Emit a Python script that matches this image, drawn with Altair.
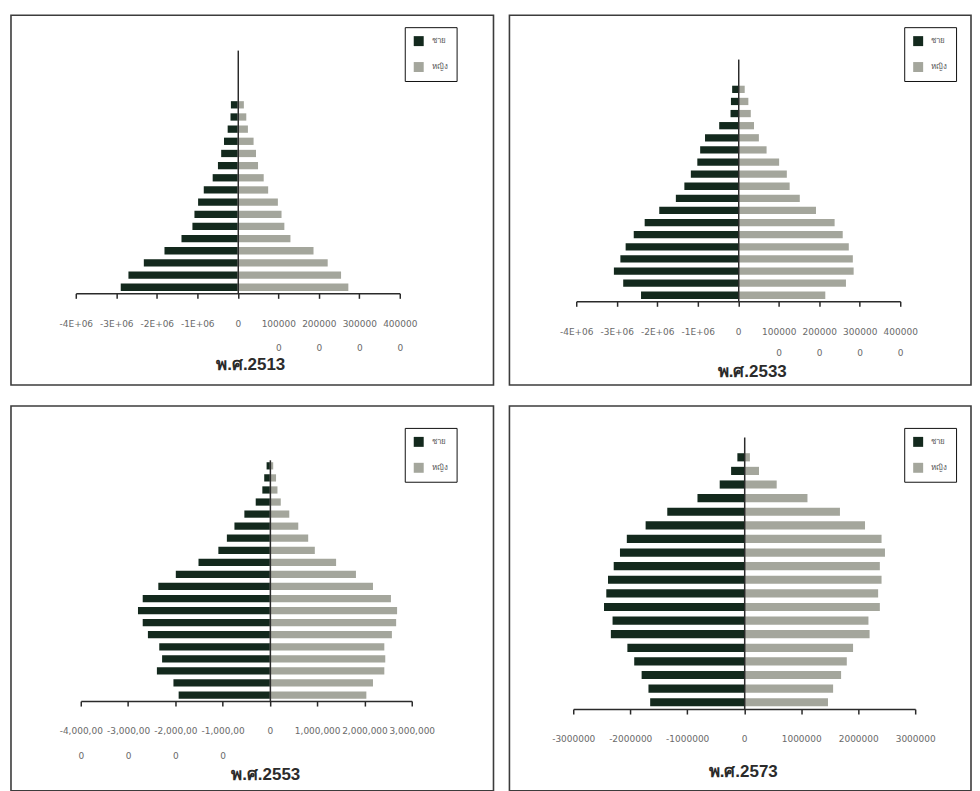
import altair as alt
import pandas as pd

AGE_GROUPS = ["0-4", "5-9", "10-14", "15-19", "20-24", "25-29", "30-34", "35-39",
              "40-44", "45-49", "50-54", "55-59", "60-64", "65-69", "70-74", "75-79",
              "80-84", "85-89", "90-94", "95-99"]
SEXES = ["ชาย", "หญิง"]
SEX_COLORS = ["#13291d", "#a4a69c"]

YEARS = ["พ.ศ.2513", "พ.ศ.2533", "พ.ศ.2553", "พ.ศ.2573"]

# population by 5-year age group, youngest first
MALE_2513 = [2890000, 2700000, 2320000, 1810000, 1390000, 1120000, 1070000, 980000,
             840000, 620000, 490000, 410000, 340000, 250000, 180000, 170000, 0, 0, 0, 0]
FEMALE_2513 = [2730000, 2550000, 2220000, 1870000, 1300000, 1150000, 1080000, 990000,
               750000, 640000, 500000, 450000, 390000, 250000, 210000, 150000, 0, 0, 0, 0]

MALE_2533 = [2400000, 2840000, 3070000, 2910000, 2780000, 2580000, 2310000, 1950000,
             1540000, 1330000, 1170000, 1010000, 940000, 820000, 470000, 190000, 180000,
             150000, 0, 0]
FEMALE_2533 = [2150000, 2660000, 2850000, 2830000, 2730000, 2580000, 2380000, 1920000,
               1520000, 1270000, 1200000, 1010000, 700000, 510000, 390000, 310000, 250000,
               160000, 0, 0]

MALE_2553 = [1930000, 2040000, 2390000, 2280000, 2340000, 2580000, 2690000, 2790000,
             2690000, 2360000, 1990000, 1510000, 1090000, 910000, 750000, 540000, 300000,
             160000, 120000, 70000]
FEMALE_2553 = [2040000, 2180000, 2420000, 2440000, 2420000, 2580000, 2670000, 2690000,
               2560000, 2180000, 1820000, 1400000, 950000, 810000, 600000, 410000, 230000,
               160000, 130000, 70000]

MALE_2573 = [1650000, 1680000, 1800000, 1930000, 2050000, 2340000, 2310000, 2460000,
             2420000, 2390000, 2290000, 2180000, 2060000, 1730000, 1350000, 820000, 430000,
             230000, 120000, 0]
FEMALE_2573 = [1470000, 1560000, 1700000, 1800000, 1910000, 2200000, 2180000, 2380000,
               2350000, 2410000, 2380000, 2470000, 2410000, 2120000, 1680000, 1110000, 570000,
               260000, 100000, 0]

TICKS_2513 = [-4000000, -3000000, -2000000, -1000000, 0, 1000000, 2000000, 3000000, 4000000]
TICK_LABELS_2513 = [["-4E+06"], ["-3E+06"], ["-2E+06"], ["-1E+06"], ["0"],
                    ["100000", "0"], ["200000", "0"], ["300000", "0"], ["400000", "0"]]
TICKS_2533 = TICKS_2513
TICK_LABELS_2533 = TICK_LABELS_2513
TICKS_2553 = [-4000000, -3000000, -2000000, -1000000, 0, 1000000, 2000000, 3000000]
TICK_LABELS_2553 = [["-4,000,00", "0"], ["-3,000,00", "0"], ["-2,000,00", "0"],
                    ["-1,000,00", "0"], ["0"], ["1,000,000"], ["2,000,000"], ["3,000,000"]]
TICKS_2573 = [-3000000, -2000000, -1000000, 0, 1000000, 2000000, 3000000]
TICK_LABELS_2573 = [["-3000000"], ["-2000000"], ["-1000000"], ["0"],
                    ["1000000"], ["2000000"], ["3000000"]]

FONT = "Liberation Sans, DejaVu Sans, Noto Sans, sans-serif"


def label_expr(ticks, labels):
    parts = []
    for v, lines in zip(ticks, labels):
        arr = "[" + ",".join("'" + s + "'" for s in lines) + "]"
        parts.append("datum.value == " + str(v) + " ? " + arr + " : ")
    return "".join(parts) + "''"


def panel(title, male, female, ticks, labels, domain, W, H, xr, axis_y, yr, zero_x,
          legend_xy, title_x, title_y, line_h):
    rows = []
    for age, m, f in zip(AGE_GROUPS, male, female):
        rows.append({"age": age, "sex": SEXES[0], "value": -m})
        rows.append({"age": age, "sex": SEXES[1], "value": f})
    df = pd.DataFrame(rows)
    return alt.Chart(df).mark_bar().encode(
        x=alt.X("value:Q",
                scale=alt.Scale(domain=domain, range=xr, nice=False),
                axis=alt.Axis(values=ticks, labelExpr=label_expr(ticks, labels),
                              offset=axis_y - H, grid=False, tickSize=5,
                              tickColor="#2a2a2a", domainColor="#2a2a2a",
                              tickWidth=1.5, domainWidth=1.5,
                              labelFontSize=9, labelFont="DejaVu Sans",
                              labelColor="#6a6a6a", labelPadding=21,
                              labelLineHeight=line_h, labelOverlap=False,
                              labelFlush=False, labelBound=False,
                              title=title, titleX=title_x, titleY=title_y,
                              titleBaseline="middle", titleAlign="center",
                              titleFontSize=17, titleFontWeight="bold",
                              titleColor="#2b2b2b", titleFont=FONT)),
        y=alt.Y("age:N", sort=list(reversed(AGE_GROUPS)),
                scale=alt.Scale(range=yr, paddingInner=0.4, paddingOuter=0.2),
                axis=alt.Axis(labels=False, ticks=False, title=None, grid=False,
                              offset=-zero_x, domainColor="#2a2a2a",
                              domainWidth=1.5, zindex=1)),
        color=alt.Color("sex:N", scale=alt.Scale(domain=SEXES, range=SEX_COLORS),
                        legend=alt.Legend(orient="none", legendX=legend_xy[0],
                                          legendY=legend_xy[1], title=None,
                                          symbolType="square", symbolSize=100,
                                          symbolStrokeWidth=0, labelFontSize=8,
                                          labelColor="#555555", labelFont=FONT,
                                          strokeColor="#111111", padding=9,
                                          rowPadding=16, labelOffset=8)),
    ).properties(width=W, height=H)


p1 = panel(YEARS[0], MALE_2513, FEMALE_2513, TICKS_2513, TICK_LABELS_2513,
           [-4000000, 4000000], 484, 371, [65, 390], 279, [35, 279], 227.5,
           (395, 12), 240, 71, 24)
p2 = panel(YEARS[1], MALE_2533, FEMALE_2533, TICKS_2533, TICK_LABELS_2533,
           [-4000000, 4000000], 463, 371, [67, 392], 287, [44, 287], 229.5,
           (396, 12), 243, 70, 21)
p3 = panel(YEARS[2], MALE_2553, FEMALE_2553, TICKS_2553, TICK_LABELS_2553,
           [-4000000, 3000000], 484, 386, [70, 402], 296, [54, 296], 259.7,
           (395, 22), 255, 74, 25)
p4 = panel(YEARS[3], MALE_2573, FEMALE_2573, TICKS_2573, TICK_LABELS_2573,
           [-3000000, 3000000], 463, 386, [64, 407], 304, [31, 304], 235.5,
           (396, 22), 234, 63, 24)

row1 = alt.hconcat(p1, p2, spacing=14).resolve_scale(color="independent").resolve_legend(color="independent")
row2 = alt.hconcat(p3, p4, spacing=14).resolve_scale(color="independent").resolve_legend(color="independent")

chart = alt.vconcat(row1, row2, spacing=19).resolve_scale(
    color="independent").resolve_legend(color="independent").properties(
    padding={"left": 2, "top": 5, "right": 0, "bottom": 0},
    background="white",
).configure(font=FONT).configure_view(stroke="#3c3c3c", strokeWidth=1.6)

chart.save("out.html", embed_options={"renderer": "svg", "actions": False})
